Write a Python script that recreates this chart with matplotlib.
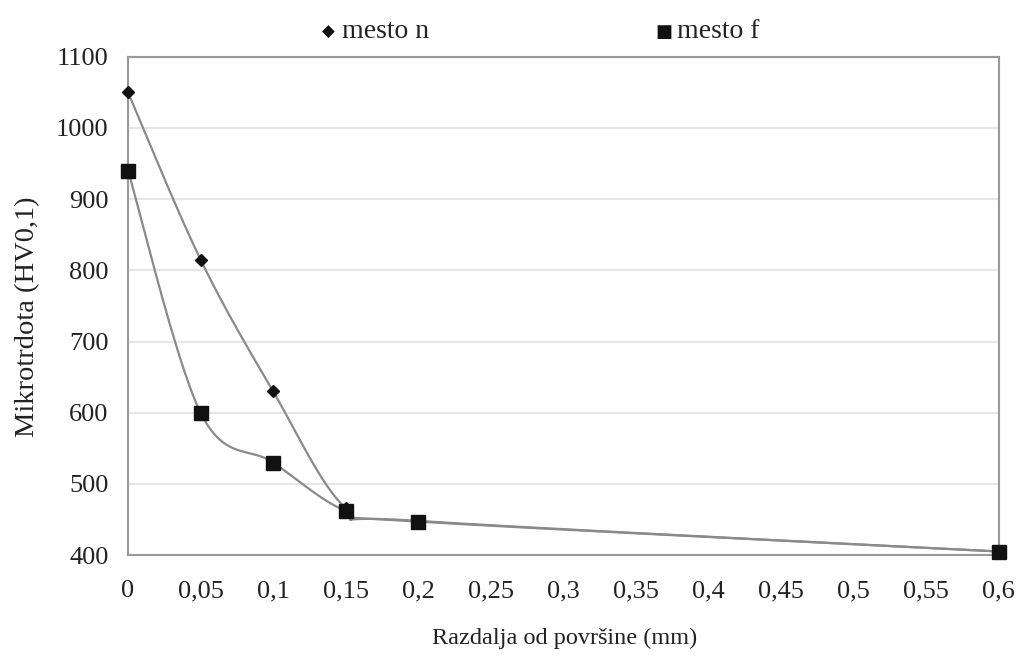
import numpy as np
import matplotlib
matplotlib.use("Agg")
import matplotlib.pyplot as plt

# data
x_mm = [0, 0.05, 0.1, 0.15, 0.2, 0.6]
mesto_n = [1050, 815, 630, 466, 448, 405]
mesto_f = [940, 600, 530, 462, 447, 405]
x_ticks = [0, 0.05, 0.1, 0.15, 0.2, 0.25, 0.3, 0.35, 0.4, 0.45, 0.5, 0.55, 0.6]
y_ticks = [400, 500, 600, 700, 800, 900, 1000, 1100]


def smooth(xs, ys, n=40):
    # Excel-like smoothed line (Catmull-Rom through the points)
    p = np.column_stack([xs, ys]).astype(float)
    p = np.vstack([p[0], p, p[-1]])
    out = []
    for i in range(1, len(p) - 2):
        p0, p1, p2, p3 = p[i - 1], p[i], p[i + 1], p[i + 2]
        c1 = p1 + (p2 - p0) / 6
        c2 = p2 - (p3 - p1) / 6
        t = np.linspace(0, 1, n)[:, None]
        seg = ((1 - t) ** 3) * p1 + 3 * ((1 - t) ** 2) * t * c1 + 3 * (1 - t) * t ** 2 * c2 + t ** 3 * p2
        out.append(seg)
    out = np.vstack(out)
    return out[:, 0], out[:, 1]


plt.rcParams['font.family'] = ['Liberation Serif', 'DejaVu Serif']

fig = plt.figure(figsize=(10.16, 6.6), dpi=100)
ax = fig.add_axes([0.126, 0.159, 0.857, 0.755])

line_col = "#8a8a8a"
for ys, mk, ms in [(mesto_n, "D", 6), (mesto_f, "s", 10)]:
    sx, sy = smooth(x_mm, ys)
    ax.plot(sx, sy, color=line_col, lw=1.6, zorder=2, clip_on=False)
    ax.plot(x_mm, ys, linestyle="none", marker=mk, markersize=ms,
            color="#111111", zorder=3, clip_on=False)

ax.set_xlim(0, 0.6)
ax.set_ylim(400, 1100)
ax.set_xticks(x_ticks)
ax.set_xticklabels([("%g" % v).replace(".", ",") for v in x_ticks])
ax.set_yticks(y_ticks)
ax.tick_params(length=0, labelsize=19, colors="#222222")
ax.tick_params(axis="x", pad=18)
ax.tick_params(axis="y", pad=14)
ax.grid(axis="y", color="#e6e6e6", lw=1.5, zorder=0)
for s in ax.spines.values():
    s.set_color("#999999")
    s.set_linewidth(1.5)

ax.set_xlabel("Razdalja od površine (mm)", fontsize=17.5, color="#222222", va="center")
ax.xaxis.set_label_coords(0.502, -0.168)
ax.set_ylabel("Mikrotrdota (HV0,1)", fontsize=20.5, color="#222222", va="center")
ax.yaxis.set_label_coords(-0.115, 0.478)

# legend on top, as in the original
fig.text(0.317, 0.952, "\u25c6", fontsize=12, ha="left", va="center",
         family=["DejaVu Sans"], color="#111111")
fig.text(0.337, 0.952, "mesto n", fontsize=20, ha="left", va="center", color="#222222")
fig.text(0.645, 0.952, "\u25a0", fontsize=13, ha="left", va="center",
         family=["DejaVu Sans"], color="#111111")
fig.text(0.666, 0.952, "mesto f", fontsize=20, ha="left", va="center", color="#222222")

fig.savefig("out.png", dpi=100)
